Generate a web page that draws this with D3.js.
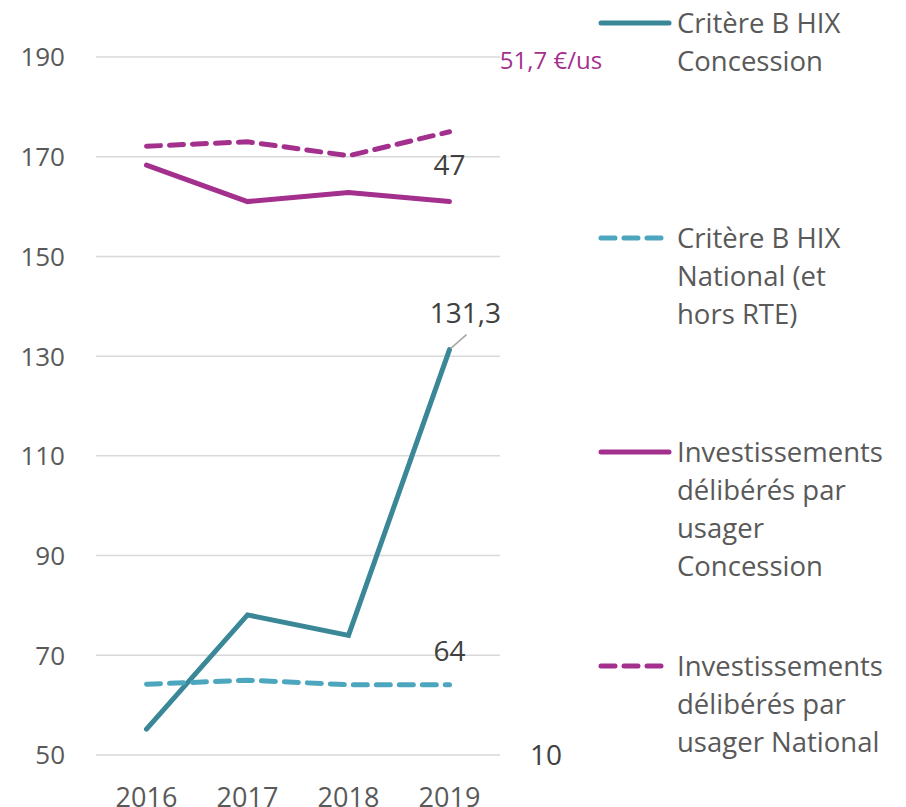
<!DOCTYPE html>
<html><head><meta charset="utf-8">
<script src="https://cdn.jsdelivr.net/npm/d3@7"></script>
<style>body{margin:0;background:#fff}svg{display:block}</style>
</head><body>
<script>
const years = ["2016","2017","2018","2019"];
const hixConcession = [55.2, 78.1, 74.0, 131.3];
const hixNational = [64.2, 65.0, 64.1, 64.1];
const invConcession = [168.3, 161.0, 162.8, 161.0];
const invNational = [172.1, 173.0, 170.2, 175.0];
const yTicks = [50, 70, 90, 110, 130, 150, 170, 190];
const seriesNames = ["Critère B HIX\nConcession", "Critère B HIX\nNational (et\nhors RTE)", "Investissements\ndélibérés par\nusager\nConcession", "Investissements\ndélibérés par\nusager National"];

const W = 906, H = 807;
const font = "'Open Sans', Lato, sans-serif";
const svg = d3.select("body").append("svg").attr("width", W).attr("height", H)
  .style("font-family", font);

const x = d3.scaleBand().domain(years).range([96, 500]);
const y = d3.scaleLinear().domain([50, 190]).range([755, 57]);

svg.append("g").selectAll("line").data(yTicks).join("line")
  .attr("x1", 96).attr("x2", 500)
  .attr("y1", d => y(d)).attr("y2", d => y(d))
  .attr("stroke", "#d9d9d9").attr("stroke-width", 1.5);

svg.append("g").selectAll("text").data(yTicks).join("text")
  .attr("x", 65).attr("y", d => y(d)).attr("dy", "0.36em")
  .attr("text-anchor", "end").attr("fill", "#595959").attr("font-size", 26)
  .text(d => d);

svg.append("g").selectAll("text").data(years).join("text")
  .attr("x", d => x(d) + x.bandwidth() / 2).attr("y", 797).attr("dy", "0.36em")
  .attr("text-anchor", "middle").attr("fill", "#595959").attr("font-size", 27)
  .text(d => d);

const series = [
  {vals: hixConcession, color: "#3a8797", dash: null},
  {vals: hixNational, color: "#4ba6be", dash: "14,9"},
  {vals: invConcession, color: "#a3308d", dash: null},
  {vals: invNational, color: "#a3308d", dash: "14,9"}
];
const line = d3.line().x((d, i) => x(years[i]) + x.bandwidth() / 2).y(d => y(d));
series.forEach(s => {
  svg.append("path").datum(s.vals).attr("d", line)
    .attr("fill", "none").attr("stroke", s.color).attr("stroke-width", 5)
    .attr("stroke-linecap", "round").attr("stroke-linejoin", "miter")
    .attr("stroke-dasharray", s.dash);
});

const cx = x("2019") + x.bandwidth() / 2;
svg.append("line").attr("x1", cx + 1).attr("y1", y(131.3) - 1).attr("x2", cx + 17).attr("y2", y(131.3) - 15)
  .attr("stroke", "#a6a6a6").attr("stroke-width", 1.5);
const labels = [
  {t: "131,3", x: cx + 16, y: 313, c: "#404040", s: 28},
  {t: "47", x: cx, y: 165, c: "#404040", s: 28},
  {t: "64", x: cx, y: 651, c: "#404040", s: 28},
  {t: "10", x: 546, y: 755, c: "#404040", s: 28},
  {t: "51,7 €/us", x: 551, y: 60, c: "#a3308d", s: 24}
];
svg.append("g").selectAll("text").data(labels).join("text")
  .attr("x", d => d.x).attr("y", d => d.y).attr("dy", "0.36em")
  .attr("text-anchor", "middle").attr("fill", d => d.c).attr("font-size", d => d.s)
  .text(d => d.t);

const legY = [23, 238, 452, 666];
series.forEach((s, i) => {
  const g = svg.append("g");
  g.append("line").attr("x1", 601).attr("x2", 669).attr("y1", legY[i]).attr("y2", legY[i])
    .attr("stroke", s.color).attr("stroke-width", 5).attr("stroke-linecap", "round")
    .attr("stroke-dasharray", s.dash);
  const lines = seriesNames[i].split("\n");
  g.selectAll("text").data(lines).join("text")
    .attr("x", 677).attr("y", (d, j) => legY[i] + j * 38).attr("dy", "0.36em")
    .attr("fill", "#595959").attr("font-size", 27.5).text(d => d);
});
</script>
</body></html>
